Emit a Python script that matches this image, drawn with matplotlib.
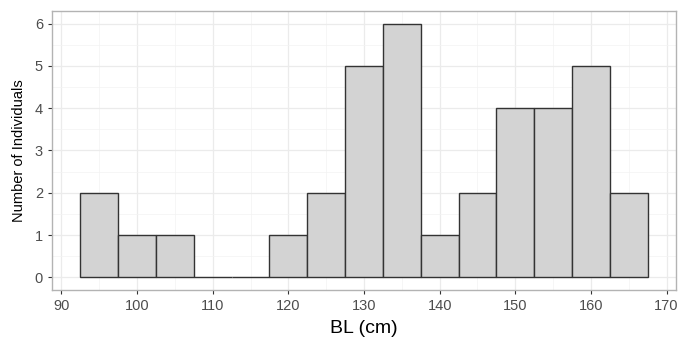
import numpy as np
import matplotlib.pyplot as plt

plt.rcParams['font.family'] = ['Liberation Sans', 'DejaVu Sans']

# histogram bins (5 cm wide) and counts
bin_edges = [92.5, 97.5, 102.5, 107.5, 112.5, 117.5, 122.5, 127.5, 132.5,
             137.5, 142.5, 147.5, 152.5, 157.5, 162.5, 167.5]
counts = [2, 1, 1, 0, 0, 1, 2, 5, 6, 1, 2, 4, 4, 5, 2]

x_ticks = [90, 100, 110, 120, 130, 140, 150, 160, 170]
y_ticks = [0, 1, 2, 3, 4, 5, 6]

fig = plt.figure(figsize=(6.79, 3.37), dpi=100)
ax = fig.add_axes([52 / 679, 1 - 290 / 337, 624 / 679, 279 / 337])

lefts = np.array(bin_edges[:-1])
widths = np.diff(bin_edges)
ax.bar(lefts, counts, width=widths, align='edge', color='#d3d3d3',
       edgecolor='#333333', linewidth=1.0, zorder=3)

ax.set_xlim(88.75, 171.25)
ax.set_ylim(-0.3, 6.3)
ax.set_xticks(x_ticks)
ax.set_yticks(y_ticks)
ax.set_xticks([95, 105, 115, 125, 135, 145, 155, 165], minor=True)
ax.set_yticks([0.5, 1.5, 2.5, 3.5, 4.5, 5.5], minor=True)
ax.grid(which='major', color='#ebebeb', linewidth=0.9, zorder=0)
ax.grid(which='minor', color='#f3f3f3', linewidth=0.5, zorder=0)
ax.tick_params(which='major', length=3, color='#333333', labelcolor='#4d4d4d',
               labelsize=10.5)
ax.tick_params(which='minor', length=0)
for s in ax.spines.values():
    s.set_color('#b3b3b3')
    s.set_linewidth(1.0)

ax.set_xlabel('BL (cm)', fontsize=14, labelpad=5)
ax.set_ylabel('Number of Individuals', fontsize=10.5, labelpad=6)

plt.savefig('out.png', dpi=100, facecolor='w')
